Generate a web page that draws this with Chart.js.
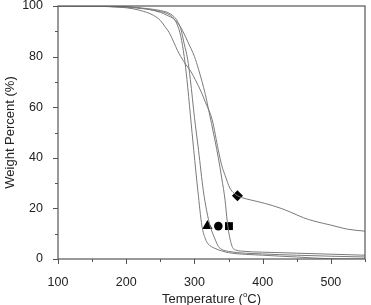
<!DOCTYPE html>
<html>
<head>
<meta charset="utf-8">
<script src="https://cdn.jsdelivr.net/npm/chart.js@4.4.1/dist/chart.umd.min.js"></script>
<style>
  html, body { margin: 0; padding: 0; background: #fff; }
  #wrap { width: 371px; height: 305px; position: relative; }
</style>
</head>
<body>
<div id="wrap"><canvas id="tga"></canvas></div>
<script>
// Curve data (temperature in C, weight in %)
const tempTri = [100, 150, 200, 230, 250, 260, 270, 275, 280, 285, 289, 294, 299, 305, 311, 316, 320, 330, 340, 350, 400, 450, 500, 550]
const wtTri = [100, 99.9, 99.5, 98.8, 97.8, 97, 95, 92.5, 88, 80, 71, 57, 43, 27, 13, 8, 6, 4.2, 3.2, 2.5, 1.5, 0.8, 0.1, 0]

const tempCirc = [100, 150, 200, 230, 250, 260, 270, 275, 280, 285, 290, 294, 300, 306, 313, 318, 323, 330, 335, 340, 350, 400, 450, 500, 550]
const wtCirc = [100, 99.9, 99.6, 99, 98.2, 97.5, 95.8, 94, 91, 85, 79, 71, 56, 43, 27, 19, 13, 8, 5, 3.8, 3, 2, 1.5, 1.1, 0.8]

const tempSq = [100, 150, 200, 230, 250, 260, 270, 280, 290, 300, 306, 316, 320, 330, 335, 340, 345, 348, 350, 353, 356, 360, 370, 400, 450, 500, 550]
const wtSq = [100, 99.9, 99.7, 98.8, 97.5, 96.3, 94.8, 91.5, 86, 80, 75, 65, 60, 47, 40, 32, 23, 15, 11, 7, 4.5, 3.6, 3.1, 2.7, 2.3, 1.9, 1.5]

const tempDia = [100, 150, 200, 220, 240, 250, 258, 263, 270, 275, 280, 287, 295, 301, 310, 316, 326, 335, 340, 345, 352, 358, 363, 370, 383, 403, 427, 441, 460, 475, 500, 524, 550]
const wtDia = [100, 99.9, 99.3, 98.3, 96.3, 94.3, 91.4, 89.5, 85.5, 82.5, 80, 77, 74, 71, 66, 62, 55, 43, 37, 33, 28, 26, 25, 24.2, 23.3, 22, 20, 18.5, 16.3, 15, 13.4, 11.8, 11]

// Marker symbols placed on the plot
const markerTemp = [319, 335, 350.6, 363]
const markerWt = [13, 13, 13, 25]
const markerShape = ["triangle", "circle", "rect", "rectRot"]
const markerSize = [6, 4.3, 5.6, 5.5]

// Axis ticks
const xMajor = [100, 200, 300, 400, 500]
const xMinor = [150, 250, 350, 450, 550]
const yMajor = [0, 20, 40, 60, 80, 100]
const yMinor = [10, 30, 50, 70, 90]

const FONT = "'Liberation Sans', Arial, sans-serif"
const AXIS = "#555"
const CURVE = "#7a7a7a"

function toPoints(xs, ys) {
  return xs.map((x, i) => ({ x: x, y: ys[i] }))
}

function curve(xs, ys) {
  return {
    type: "line",
    data: toPoints(xs, ys),
    borderColor: CURVE,
    borderWidth: 1,
    pointRadius: 0,
    fill: false,
    cubicInterpolationMode: "monotone",
  }
}

const markerSets = markerTemp.map((t, i) => ({
  type: "scatter",
  data: [{ x: t, y: markerWt[i] }],
  pointStyle: markerShape[i],
  pointRadius: markerSize[i],
  backgroundColor: "#000",
  borderColor: "#000",
  borderWidth: 0,
}))

// Frame, outside ticks (major + minor) and the axis titles
const framePlugin = {
  id: "frame",
  afterDraw(chart) {
    const ctx = chart.ctx
    const a = chart.chartArea
    const xs = chart.scales.x
    const ys = chart.scales.y
    ctx.save()
    ctx.strokeStyle = AXIS
    ctx.lineWidth = 1.2
    ctx.strokeRect(a.left, a.top, a.right - a.left, a.bottom - a.top)
    ctx.lineWidth = 1
    ctx.beginPath()
    xMajor.forEach((v) => {
      const p = Math.round(xs.getPixelForValue(v)) + 0.5
      ctx.moveTo(p, a.bottom); ctx.lineTo(p, a.bottom + 5)
    })
    xMinor.forEach((v) => {
      const p = Math.round(xs.getPixelForValue(v)) + 0.5
      ctx.moveTo(p, a.bottom); ctx.lineTo(p, a.bottom + 3)
    })
    yMajor.forEach((v) => {
      const p = Math.round(ys.getPixelForValue(v)) + 0.5
      ctx.moveTo(a.left, p); ctx.lineTo(a.left - 5, p)
    })
    yMinor.forEach((v) => {
      const p = Math.round(ys.getPixelForValue(v)) + 0.5
      ctx.moveTo(a.left, p); ctx.lineTo(a.left - 3, p)
    })
    ctx.stroke()

    // x title with superscript o
    ctx.fillStyle = "#222"
    ctx.textBaseline = "alphabetic"
    const main = "Temperature ("
    const tail = "C)"
    ctx.font = "13px " + FONT
    const w1 = ctx.measureText(main).width
    const w3 = ctx.measureText(tail).width
    ctx.font = "8px " + FONT
    const w2 = ctx.measureText("o").width
    const total = w1 + w2 + w3
    const cx = (a.left + a.right) / 2
    const x0 = cx - total / 2
    const base = 303
    ctx.font = "13px " + FONT
    ctx.fillText(main, x0, base)
    ctx.font = "8px " + FONT
    ctx.fillText("o", x0 + w1, base - 6)
    ctx.font = "13px " + FONT
    ctx.fillText(tail, x0 + w1 + w2, base)

    // y title
    ctx.translate(13.5, (a.top + a.bottom) / 2)
    ctx.rotate(-Math.PI / 2)
    ctx.textAlign = "center"
    ctx.fillText("Weight Percent (%)", 0, 0)
    ctx.restore()
  },
}

new Chart(document.getElementById("tga"), {
  data: {
    datasets: [
      curve(tempTri, wtTri),
      curve(tempCirc, wtCirc),
      curve(tempSq, wtSq),
      curve(tempDia, wtDia),
    ].concat(markerSets),
  },
  options: {
    responsive: true,
    maintainAspectRatio: false,
    animation: false,
    layout: { padding: { top: 6, right: 2, left: 0, bottom: 0 } },
    plugins: {
      legend: { display: false },
      tooltip: { enabled: false },
    },
    scales: {
      x: {
        type: "linear",
        min: 100,
        max: 550,
        grid: { display: false },
        border: { display: false },
        ticks: {
          stepSize: 100,
          color: "#222",
          font: { family: FONT, size: 12.5 },
          padding: 8,
          maxRotation: 0,
          callback: (v) => (xMajor.includes(v) ? v : ""),
        },
        afterFit: (s) => { s.height = 46; s.paddingLeft = 0; s.paddingRight = 0 },
      },
      y: {
        type: "linear",
        min: 0,
        max: 100,
        grid: { display: false },
        border: { display: false },
        ticks: {
          stepSize: 20,
          color: "#222",
          font: { family: FONT, size: 12.5 },
          padding: 7,
          callback: (v) => (yMajor.includes(v) ? v : ""),
        },
        afterFit: (s) => { s.width = 58; s.paddingTop = 0; s.paddingBottom = 0 },
      },
    },
  },
  plugins: [framePlugin],
})
</script>
</body>
</html>
